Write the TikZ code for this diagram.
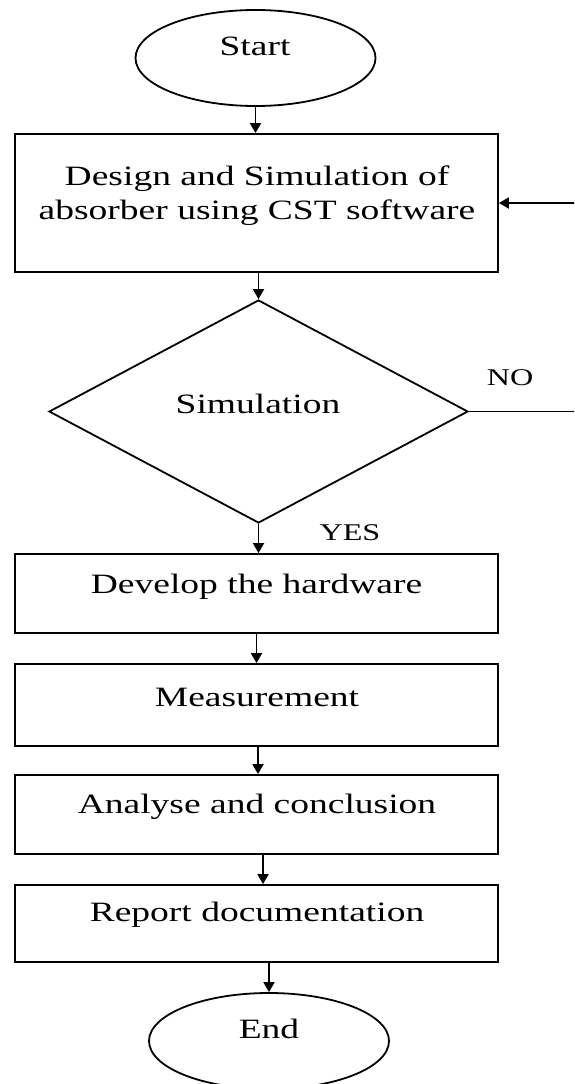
\documentclass[tikz,border=0pt]{standalone}
\usepackage{fontspec}
\setmainfont{Liberation Serif}[FakeStretch=1.34]
\usetikzlibrary{arrows.meta,shapes.geometric}
\begin{document}
\begin{tikzpicture}[x=1pt,y=-1pt,
  line width=1.8pt,
  arr/.style={-{Triangle[width=11pt,length=10pt]}},
  box/.style={draw, rectangle, minimum width=483pt, minimum height=#1, inner sep=0pt},
  oval/.style={draw, ellipse, minimum width=240pt, minimum height=96pt, inner sep=0pt},
  dia/.style={draw, diamond, minimum width=419pt, minimum height=223pt, inner sep=0pt},
  lbl/.style={font=\fontsize{28}{34}\selectfont, anchor=base, inner sep=0pt},
  yn/.style={font=\fontsize{24}{28}\selectfont, anchor=base, inner sep=0pt}]
\useasboundingbox (0,0) rectangle (574,1084);
\fill[white] (0,0) rectangle (574,1084);
\clip (0,0) rectangle (574,1084);

% shapes
\node[oval] (start) at (255.5,58) {};
\node[box=138pt] (b1) at (256.5,203) {};
\node[dia] (d) at (258.5,411.5) {};
\node[box=79pt] (b2) at (256.5,593.5) {};
\node[box=82pt] (b3) at (256.5,705) {};
\node[box=79pt] (b4) at (256.5,814.5) {};
\node[box=77pt] (b5) at (256.5,923.5) {};
\node[oval] (end) at (269,1041) {};

% texts
\node[lbl] (tstart) at (255,55) {Start};
\node[lbl, anchor=center, align=center] (t1) at (257,195.5) {Design and Simulation of\\absorber using CST software};
\node[lbl] (tsim) at (258,413) {Simulation};
\node[lbl] (t2) at (256.5,593) {Develop the hardware};
\node[lbl] (t3) at (257,706) {Measurement};
\node[lbl] (t4) at (257,813) {Analyse and conclusion};
\node[lbl] (t5) at (257,921) {Report documentation};
\node[lbl] (tend) at (269,1038) {End};
\node[yn] (no) at (510,385) {NO};
\node[yn] (yes) at (350,540) {YES};

% connectors
\draw[arr] (start.south) -- (start.south |- b1.north);
\draw[arr] (d.north |- b1.south) -- (d.north);
\draw[arr] (d.south) -- (d.south |- b2.north);
\draw[arr] (b2.south) -- (b2.south |- b3.north);
\draw[arr] ([xshift=1.5pt]b3.south) -- ([xshift=1.5pt]b3.south |- b4.north);
\draw[arr] ([xshift=6.5pt]b4.south) -- ([xshift=6.5pt]b4.south |- b5.north);
\draw[arr] (end.north |- b5.south) -- (end.north);
\draw[arr] (d.east) -- ++(130,0) |- (b1.east);
\end{tikzpicture}
\end{document}
